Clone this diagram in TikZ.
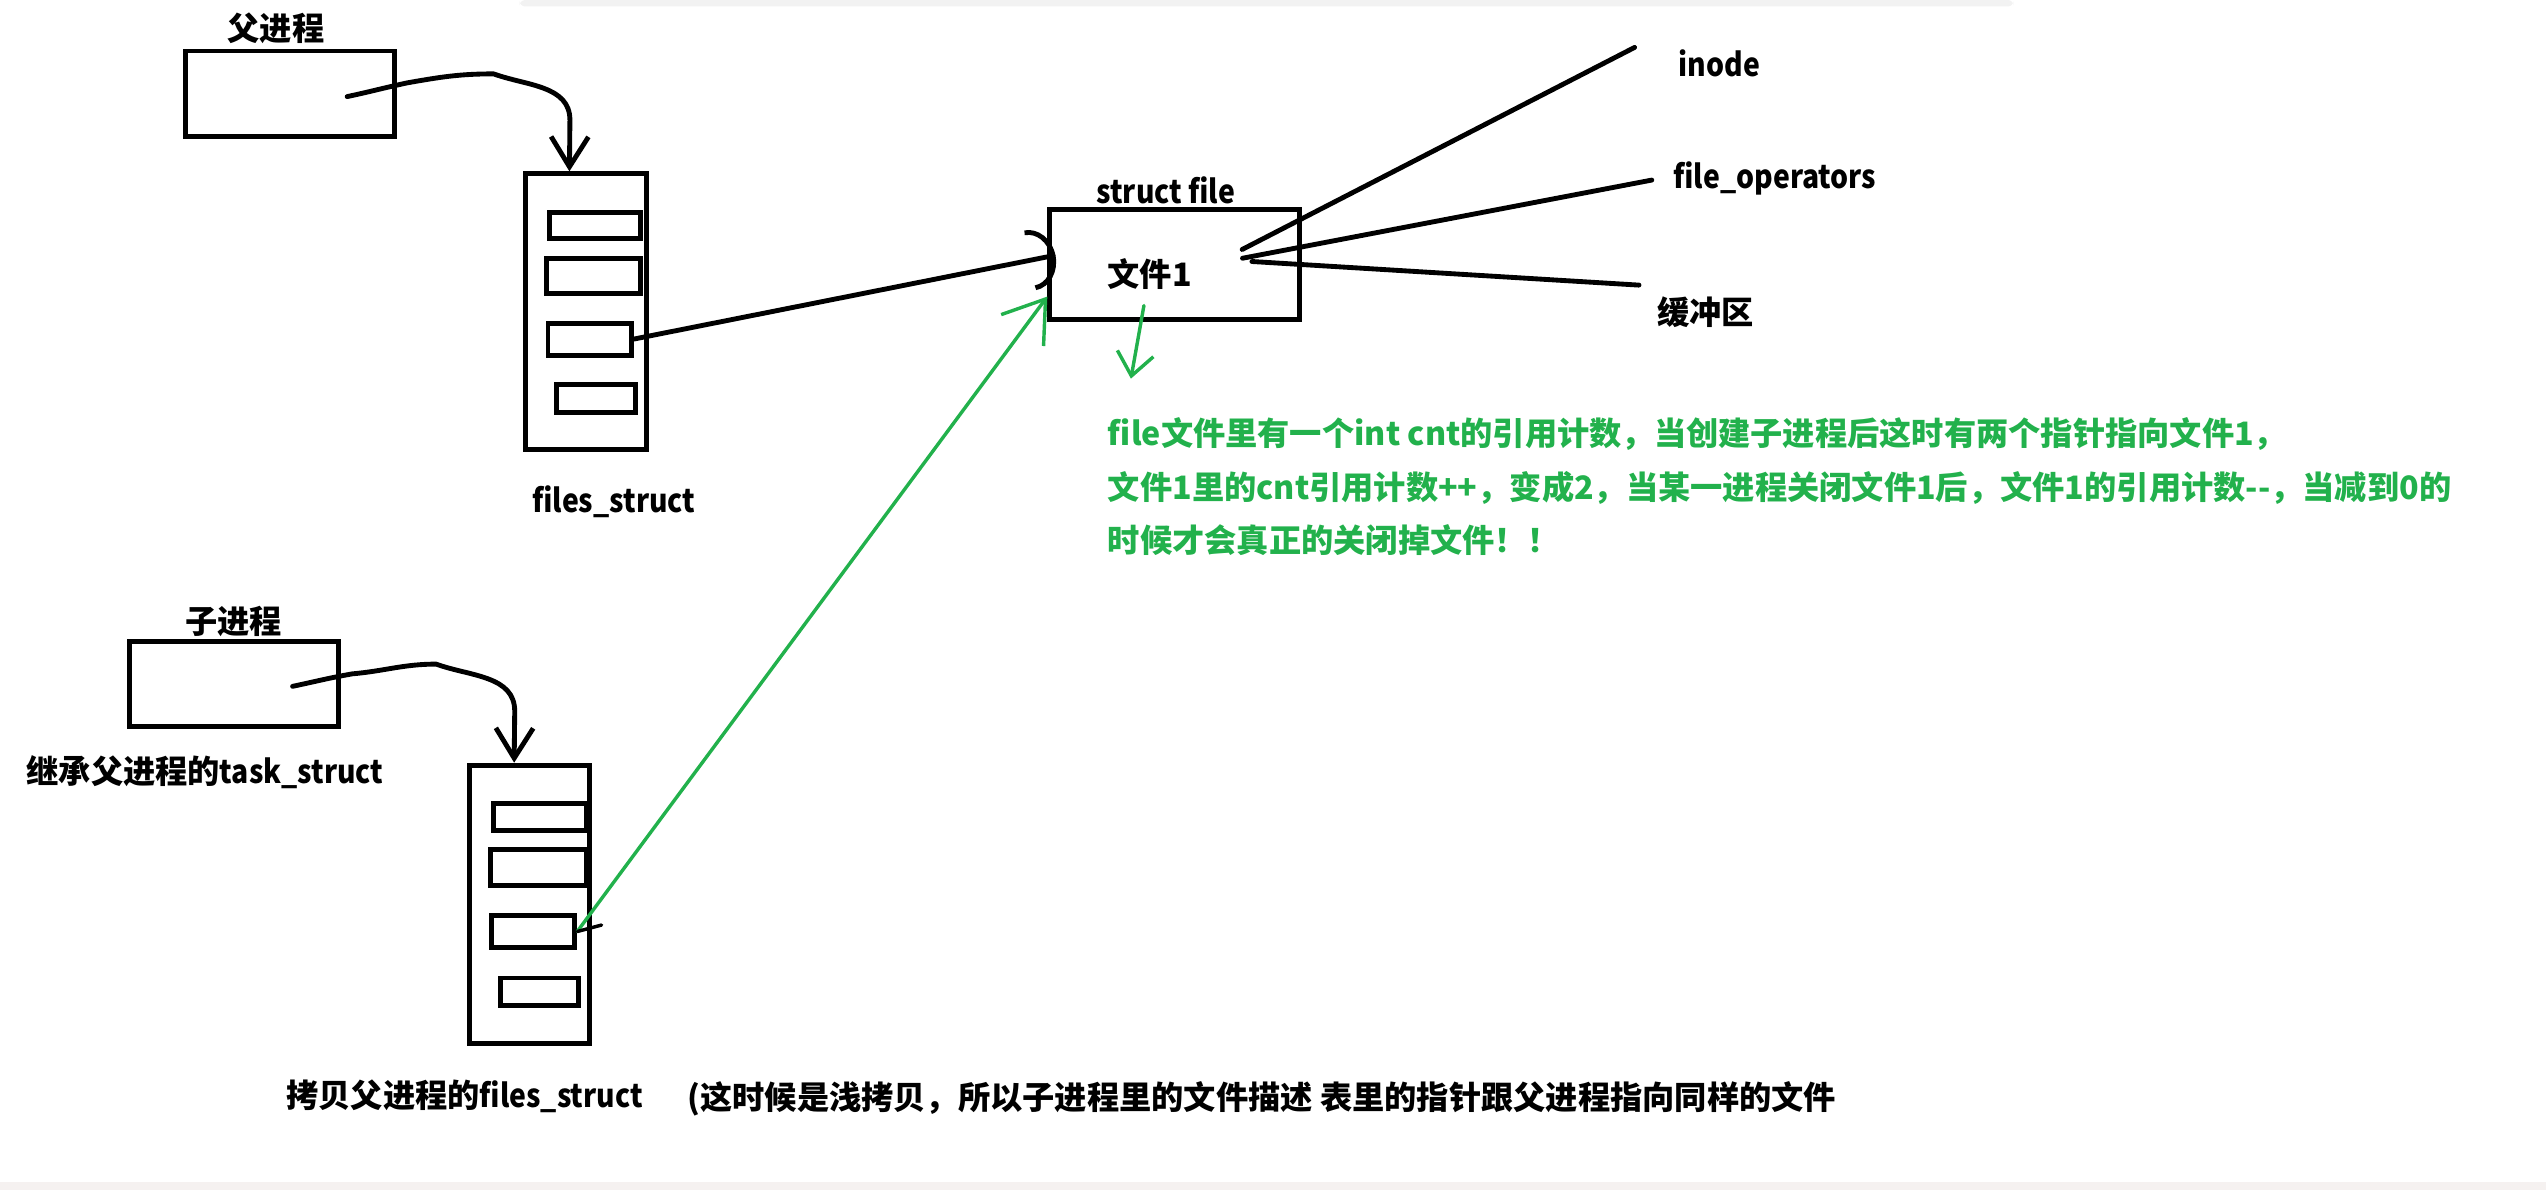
\documentclass[tikz,border=0pt]{standalone}
\usepackage{fontspec}
\setmainfont{Noto Sans CJK SC}
\newfontfamily\narrowlat{Noto Sans CJK SC}[FakeStretch=0.88]
\usepackage{xcolor}
\usetikzlibrary{arrows.meta, positioning, calc}
\definecolor{paintgreen}{HTML}{22B14C}
\definecolor{bandgray}{HTML}{F5F1F0}

\begin{document}
\begin{tikzpicture}[x=0.02cm, y=-0.02cm,
    box/.style={draw, line width=1.7pt, inner sep=0pt},
    lbl/.style={font=\fontsize{11.3}{13}\selectfont\bfseries, inner sep=0pt},
    hand/.style={line width=1.7pt, line cap=round, line join=round},
    greenhand/.style={draw=paintgreen, line width=1.2pt, line cap=round, line join=round}]
    \useasboundingbox (0,0) rectangle (1568,733);

    % Page remnants
    \fill[black!5, rounded corners=2pt] (320,0) rectangle (1240,4);
    \fill[bandgray] (0,727.8) rectangle (1568,733);

    % Parent process and its files_struct
    \node[box, minimum width=2.58cm, minimum height=1.054cm] (pproc) at (178.5,57.75) {};
    \node[lbl] (pname) at (170,17.5) {父进程};
    \node[box, minimum width=1.49cm, minimum height=3.4cm] (pfiles) at (360.75,192) {};
    \node[box, minimum width=1.124cm, minimum height=0.32cm] (ps1) at (366.6,138.7) {};
    \node[box, minimum width=1.16cm, minimum height=0.44cm] (ps2) at (365.7,170) {};
    \node[box, minimum width=1.024cm, minimum height=0.394cm] (ps3) at (363.1,208.85) {};
    \node[box, minimum width=0.974cm, minimum height=0.34cm] (ps4) at (367.15,245.5) {};
    \node[lbl] (pfname) at (378,309) {\narrowlat files\_struct};

    % Child process and its files_struct
    \node[box, minimum width=2.58cm, minimum height=1.052cm] (cproc) at (144,421.3) {};
    \node[lbl] (cname) at (144,383) {子进程};
    \node[lbl, anchor=west] (inherit) at (16,475.3) {继承父进程的{\narrowlat task\_struct}};
    \node[box, minimum width=1.486cm, minimum height=3.43cm] (cfiles) at (326.15,556.95) {};
    \node[box, minimum width=1.144cm, minimum height=0.328cm] (cs1) at (332.5,503.2) {};
    \node[box, minimum width=1.18cm, minimum height=0.452cm] (cs2) at (331.5,534.3) {};
    \node[box, minimum width=1.024cm, minimum height=0.4cm] (cs3) at (328.4,573.7) {};
    \node[box, minimum width=0.964cm, minimum height=0.336cm] (cs4) at (332.1,610.7) {};
    \node[lbl, anchor=west] (cfname) at (176,675) {拷贝父进程的{\narrowlat files\_struct}};
    \node[lbl, anchor=west] (shallow) at (423,677) {(这时候是浅拷贝，所以子进程里的文件描述 表里的指针跟父进程指向同样的文件};

    % struct file and what it points to
    \node[box, minimum width=3.08cm, minimum height=1.354cm] (sfile) at (723.5,162.85) {};
    \node[lbl] (sname) at (718,117) {\narrowlat struct file};
    \node[lbl] (fname) at (708,169) {文件1};
    \node[lbl, anchor=west] (inode) at (1033.4,39) {\narrowlat inode};
    \node[lbl, anchor=west] (fops) at (1030.3,109.9) {\narrowlat file\_operators};
    \node[lbl, anchor=west] (buf) at (1020.4,192) {缓冲区};

    % Note on the reference count
    \node[lbl, text=paintgreen, anchor=west, align=left,
          font=\fontsize{11.3}{18.8}\selectfont\bfseries] (note) at (682,299.8)
        {file文件里有一个int cnt的引用计数，当创建子进程后这时有两个指针指向文件1，\\
         文件1里的cnt引用计数++，变成2，当某一进程关闭文件1后，文件1的引用计数-{}-，当减到0的\\
         时候才会真正的关闭掉文件！！};

    % Process -> files_struct
    \coordinate (ptail) at ($(pproc.center)+(35.3,1.75)$);
    \draw[hand, -{Straight Barb[length=3.7mm, width=4.6mm]}] (ptail)
        to[out=12, in=192] (251,51) to[out=10, in=180] (304,45.5)
        to[out=-20, in=90] (351,74) -- ($(pfiles.north west)!.37!(pfiles.north east)$);
    \coordinate (ctail) at ($(cproc.center)+(36.2,1.4)$);
    \draw[hand, -{Straight Barb[length=3.7mm, width=4.6mm]}] (ctail)
        to[out=12, in=190] (217,415) to[out=5, in=180] (268.6,409)
        to[out=-20, in=90] (317,438) -- ($(cfiles.north west)!.377!(cfiles.north east)$);

    % Descriptors -> struct file
    \draw[hand, -{Arc Barb[length=3.2mm, width=7.5mm]}] (ps3.east)
        -- ($(sfile.north west)!.42!(sfile.south west)+(5,0)$);
    \draw[greenhand, -{Straight Barb[length=4.8mm, width=6.5mm]}] (cs3.east)
        -- ($(sfile.south west)!.22!(sfile.north west)$);
    \draw[line width=1.2pt, line cap=round] (cs3.east) -- ++(15,-4);

    % struct file members
    \coordinate (fan1) at ($(sfile.center)+(41.5,-9.2)$);
    \coordinate (fan2) at ($(sfile.center)+(41.7,-3.8)$);
    \coordinate (fan3) at ($(sfile.center)+(47.5,-1.8)$);
    \draw[hand] (fan1) -- ($(inode.west)+(-26.7,-9.8)$);
    \draw[hand] (fan2) -- ($(fops.west)+(-13,1)$);
    \draw[hand] (fan3) -- ($(buf.west)+(-11,-16.4)$);

    % Down to the note
    \coordinate (gtail) at ($(sfile.south)+(-19,-10)$);
    \coordinate (gtip) at ($(sfile.south)+(-27,35)$);
    \draw[greenhand, -{Straight Barb[length=2.8mm, width=4.5mm]}] (gtail) -- (gtip);
\end{tikzpicture}
\end{document}
